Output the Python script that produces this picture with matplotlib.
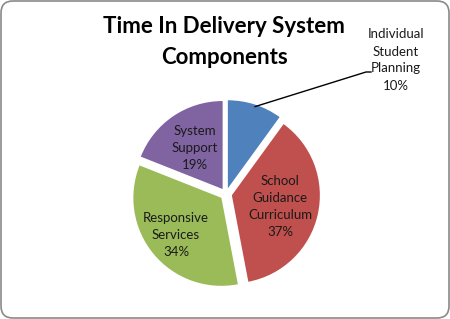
import numpy as np
import matplotlib
matplotlib.use("Agg")
import matplotlib.pyplot as plt
from matplotlib.patches import FancyBboxPatch

## data
categories = ["Individual\nStudent\nPlanning", "School\nGuidance\nCurriculum",
              "Responsive\nServices", "System\nSupport"]
shares = [10, 37, 34, 19]
colors = ["#4F81BD", "#C0504D", "#9BBB59", "#8064A2"]
title = "Time In Delivery System\nComponents"

W, H = 450, 319
fig = plt.figure(figsize=(W / 100, H / 100), dpi=100)
ax = fig.add_axes([0, 0, 1, 1])

## outer rounded border
ax.add_patch(FancyBboxPatch((1, 1), W - 2, H - 2, boxstyle="round,pad=0,rounding_size=12",
                            fc="white", ec="#8a8a8a", lw=1.2, zorder=0))

cx, cy, r, ex = 226, H - 194, 88, 6
wedges, _ = ax.pie(shares, colors=colors, startangle=90, counterclock=False,
                   explode=[ex] * len(shares), radius=r, center=(cx, cy),
                   wedgeprops=dict(linewidth=0), frame=True)
ax.set_xlim(0, W)
ax.set_ylim(0, H)
ax.set_aspect("equal")
ax.axis("off")

font = "Lato"
txt_col = "#1a1a1a"
fs = 9.5
dists = [None, 0.56, 0.67, 0.57]
for w, lab, p, d in zip(wedges, categories, shares, dists):
    ang = np.deg2rad((w.theta1 + w.theta2) / 2)
    ox, oy = w.center
    text = f"{lab}\n{p}%"
    if d is None:
        # outside label with leader line
        x0 = ox + r * np.cos(ang)
        y0 = oy + r * np.sin(ang)
        ax.plot([x0, 366, 371], [y0 - 2, H - 72, H - 72], color="black", lw=1)
        ax.text(396, H - 60, text, ha="center", va="center", fontsize=fs,
                family=font, color=txt_col, linespacing=1.5)
    else:
        ax.text(ox + d * r * np.cos(ang), oy + d * r * np.sin(ang), text,
                ha="center", va="center", fontsize=fs, family=font,
                color=txt_col, linespacing=1.5)

ax.text(224, H - 42, title, ha="center", va="center", fontsize=16,
        fontweight="bold", family=font, color="black", linespacing=1.55)

fig.savefig("out.png", dpi=100)
